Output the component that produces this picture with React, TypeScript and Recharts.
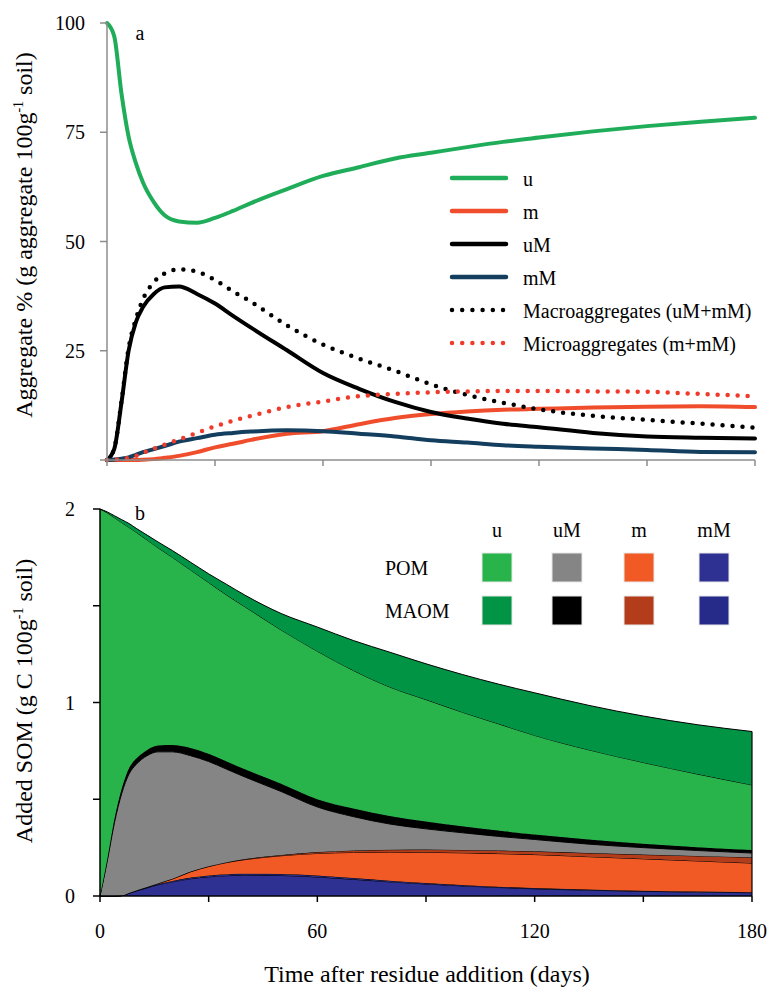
import { LineChart, Line, AreaChart, Area, XAxis, YAxis, Legend, ReferenceLine } from 'recharts'

const FONT = 'Liberation Serif, DejaVu Serif, Noto Serif, serif'

// sampling days, shared by both panels
const days = [0, 2, 4, 6, 8, 10, 13, 16, 20, 25, 30, 35, 40, 50, 60, 70, 80, 90, 100, 110, 120, 135, 150, 165, 180]

// panel a: aggregate % (g aggregate 100g-1 soil)
const uAgg = [100, 97, 84, 74, 68, 63.5, 59, 56, 54.6, 54.3, 55.4, 57, 58.8, 62, 65, 67, 69, 70.3, 71.6, 72.8, 73.8, 75.2, 76.4, 77.4, 78.3]
const mAgg = [0, 0, 0, 0, 0, 0.05, 0.2, 0.5, 0.95, 1.8, 2.9, 3.7, 4.6, 6.0, 6.6, 8.2, 9.6, 10.5, 11.1, 11.5, 11.7, 12, 12.2, 12.3, 12.1]
const uMAgg = [0, 2.5, 13, 25, 31.5, 35, 38, 39.5, 39.7, 38, 35.8, 33, 30.3, 25.1, 19.9, 16.3, 13.3, 11, 9.5, 8.3, 7.5, 6.2, 5.4, 5.1, 4.9]
const mMAgg = [0, 0.1, 0.3, 0.6, 1.2, 1.8, 2.5, 3.2, 4.2, 5.0, 5.8, 6.2, 6.5, 6.8, 6.6, 6.0, 5.4, 4.5, 4.0, 3.4, 3.05, 2.65, 2.3, 1.85, 1.75]
const macroAgg = [0, 2.6, 13.3, 25.6, 32.2, 36.8, 40.7, 42.7, 43.6, 43.1, 41.2, 38.6, 36.2, 30.8, 26.4, 23.2, 20.4, 17.3, 14.9, 13.1, 11.6, 10.1, 9.2, 8.3, 7.4]
const microAgg = [0, 0.05, 0.2, 0.45, 0.9, 1.6, 2.6, 3.5, 4.7, 6.2, 7.7, 9, 10.1, 12.1, 13.4, 14.6, 15.1, 15.5, 15.7, 15.8, 15.8, 15.7, 15.6, 15.1, 14.6]

// panel b: added SOM (g C 100g-1 soil), one array per pool, bottom of stack first
const mMPom = [0, 0, 0, 0.002, 0.014, 0.026, 0.042, 0.058, 0.073, 0.089, 0.099, 0.105, 0.107, 0.106, 0.098, 0.086, 0.073, 0.062, 0.052, 0.044, 0.037, 0.03, 0.024, 0.02, 0.017]
const mMMaom = [0, 0, 0, 0, 0.001, 0.002, 0.003, 0.004, 0.005, 0.006, 0.007, 0.008, 0.008, 0.008, 0.008, 0.007, 0.006, 0.005, 0.005, 0.004, 0.004, 0.003, 0.003, 0.003, 0.003]
const mPom = [0, 0, 0, 0, 0, 0, 0.001, 0.003, 0.01, 0.03, 0.046, 0.06, 0.073, 0.094, 0.114, 0.132, 0.148, 0.159, 0.166, 0.171, 0.173, 0.17, 0.165, 0.158, 0.15]
const mMaom = [0, 0, 0, 0, 0, 0, 0, 0, 0.001, 0.001, 0.002, 0.002, 0.003, 0.004, 0.007, 0.01, 0.012, 0.014, 0.015, 0.016, 0.017, 0.019, 0.022, 0.026, 0.03]
const uMPom = [0, 0.18, 0.38, 0.528, 0.615, 0.652, 0.679, 0.68, 0.656, 0.599, 0.541, 0.48, 0.424, 0.328, 0.233, 0.175, 0.133, 0.107, 0.089, 0.073, 0.061, 0.046, 0.036, 0.028, 0.022]
const uMMaom = [0, 0.01, 0.02, 0.025, 0.03, 0.03, 0.03, 0.033, 0.035, 0.04, 0.04, 0.04, 0.04, 0.04, 0.04, 0.042, 0.041, 0.038, 0.033, 0.03, 0.026, 0.024, 0.02, 0.017, 0.016]
const uPom = [2.0, 1.79, 1.555, 1.375, 1.245, 1.17, 1.085, 1.022, 0.97, 0.92, 0.885, 0.86, 0.84, 0.795, 0.765, 0.713, 0.667, 0.63, 0.59, 0.552, 0.512, 0.463, 0.42, 0.378, 0.336]
const uMaom = [0, 0.005, 0.01, 0.015, 0.02, 0.02, 0.025, 0.03, 0.035, 0.04, 0.045, 0.055, 0.06, 0.085, 0.125, 0.155, 0.18, 0.185, 0.195, 0.205, 0.22, 0.23, 0.24, 0.255, 0.276]

const xTicks = [0, 30, 60, 90, 120, 150, 180]
const aggTicks = [0, 25, 50, 75, 100]
const somTicks = [0, 0.5, 1, 1.5, 2]

const poolCols = ['u', 'uM', 'm', 'mM']
const poolRows = ['POM', 'MAOM']

const aggData = days.map((day, i) => ({
  day,
  u: uAgg[i],
  m: mAgg[i],
  uM: uMAgg[i],
  mM: mMAgg[i],
  macro: macroAgg[i],
  micro: microAgg[i],
}))

const somData = days.map((day, i) => ({
  day,
  mMPom: mMPom[i],
  mMMaom: mMMaom[i],
  mPom: mPom[i],
  mMaom: mMaom[i],
  uMPom: uMPom[i],
  uMMaom: uMMaom[i],
  uPom: uPom[i],
  uMaom: uMaom[i],
}))

const lineSeries = [
  { key: 'u', name: 'u', color: '#20ad5a', dotted: false },
  { key: 'm', name: 'm', color: '#f04d2c', dotted: false },
  { key: 'uM', name: 'uM', color: '#000000', dotted: false },
  { key: 'mM', name: 'mM', color: '#133e5e', dotted: false },
  { key: 'macro', name: 'Macroaggregates (uM+mM)', color: '#000000', dotted: true },
  { key: 'micro', name: 'Microaggregates (m+mM)', color: '#ee3b2b', dotted: true },
]

// stack order bottom -> top
const areaSeries = [
  { key: 'mMPom', color: '#2e3192' },
  { key: 'mMMaom', color: '#262b8a' },
  { key: 'mPom', color: '#f15a24' },
  { key: 'mMaom', color: '#b33c1a' },
  { key: 'uMPom', color: '#858585' },
  { key: 'uMMaom', color: '#000000' },
  { key: 'uPom', color: '#29b34b' },
  { key: 'uMaom', color: '#009444' },
]

const poolColors: Record<string, string[]> = {
  POM: ['#29b34b', '#858585', '#f15a24', '#2e3192'],
  MAOM: ['#009444', '#000000', '#b33c1a', '#262b8a'],
}

const lastTotal = areaSeries.reduce((s, a) => s + (somData[somData.length - 1] as any)[a.key], 0)

function AggLegend() {
  return (
    <svg width={320} height={200} style={{ display: 'block' }}>
      {lineSeries.map((s, i) => {
        const y = 18 + i * 33
        return (
          <g key={s.key}>
            <line
              x1={7}
              x2={s.dotted ? 58 : 61}
              y1={y}
              y2={y}
              stroke={s.color}
              strokeWidth={4.5}
              strokeLinecap="round"
              strokeDasharray={s.dotted ? '0 10.2' : undefined}
            />
            <text x={78} y={y + 8} fontSize={20} style={{ fontFamily: FONT }} fill="#000">
              {s.name}
            </text>
          </g>
        )
      })}
    </svg>
  )
}

function PoolLegend() {
  const colX = [112, 182, 254, 329]
  const rowY = [43, 86]
  return (
    <svg width={390} height={130} style={{ display: 'block' }}>
      {poolCols.map((c, j) => (
        <text key={c} x={colX[j] + 15} y={27} textAnchor="middle" fontSize={20} style={{ fontFamily: FONT }} fill="#000">
          {c}
        </text>
      ))}
      {poolRows.map((r, i) => (
        <g key={r}>
          <text x={15} y={rowY[i] + 22} fontSize={20} style={{ fontFamily: FONT }} fill="#000">
            {r}
          </text>
          {poolCols.map((c, j) => (
            <rect key={c} x={colX[j]} y={rowY[i]} width={30} height={29} fill={poolColors[r][j]} stroke="#e8e8e8" strokeWidth={1} />
          ))}
        </g>
      ))}
    </svg>
  )
}

const tickStyle = { fill: '#000', fontSize: 20, style: { fontFamily: FONT } }
const titleStyle = { fontFamily: FONT }

export default function App() {
  return (
    <div style={{ position: 'absolute', left: 0, top: 0, width: 770, height: 987, background: '#fff', fontFamily: FONT }}>
      {/* a: aggregate fractions */}
      <div style={{ position: 'absolute', left: 0, top: 0 }}>
        <LineChart width={770} height={480} data={aggData} margin={{ top: 23, right: 15, bottom: 6, left: 47 }}>
          <XAxis
            dataKey="day"
            type="number"
            domain={[0, 180]}
            ticks={xTicks}
            tickFormatter={() => ''}
            stroke="#8c8c8c"
            strokeWidth={1.5}
            tickSize={6}
            height={14}
          />
          <YAxis
            domain={[0, 100]}
            ticks={aggTicks}
            tickFormatter={(v: number) => (v === 0 ? '' : String(v))}
            stroke="#8c8c8c"
            strokeWidth={1.5}
            width={60}
            tickSize={7}
            tickMargin={15}
            tick={tickStyle}
          />
          {lineSeries.map((s) => (
            <Line
              key={s.key}
              type="monotone"
              dataKey={s.key}
              name={s.name}
              stroke={s.color}
              strokeWidth={s.dotted ? 4.5 : 4}
              strokeLinecap="round"
              strokeDasharray={s.dotted ? '0 10' : undefined}
              dot={false}
              activeDot={false}
              isAnimationActive={false}
            />
          ))}
          <Legend
            layout="horizontal"
            verticalAlign="middle"
            align="center"
            content={() => <AggLegend />}
            wrapperStyle={{ left: 445, top: 160, width: 320 }}
          />
        </LineChart>
      </div>

      {/* b: added SOM by pool */}
      <div style={{ position: 'absolute', left: 0, top: 480 }}>
        <AreaChart width={770} height={507} data={somData} margin={{ top: 29, right: 18, bottom: 51, left: 40 }}>
          <XAxis
            dataKey="day"
            type="number"
            domain={[0, 180]}
            ticks={xTicks}
            tickFormatter={(v: number) => (v % 60 === 0 ? String(v) : '')}
            stroke="#000"
            strokeWidth={1.5}
            tickSize={6}
            tickMargin={22}
            height={40}
            tick={tickStyle}
          />
          <YAxis
            domain={[0, 2]}
            ticks={somTicks}
            tickFormatter={(v: number) => (Number.isInteger(v) ? String(v) : '')}
            stroke="#000"
            strokeWidth={1.5}
            width={60}
            tickSize={7}
            tickMargin={18}
            tick={tickStyle}
          />
          {areaSeries.map((a) => (
            <Area
              key={a.key}
              type="monotone"
              dataKey={a.key}
              stackId="som"
              fill={a.color}
              fillOpacity={1}
              stroke="#000"
              strokeWidth={1}
              dot={false}
              activeDot={false}
              isAnimationActive={false}
            />
          ))}
          <ReferenceLine segment={[{ x: 180, y: 0 }, { x: 180, y: lastTotal }]} stroke="#000" strokeWidth={1.2} />
          <Legend
            layout="horizontal"
            verticalAlign="middle"
            align="center"
            content={() => <PoolLegend />}
            wrapperStyle={{ left: 370, top: 30, width: 390 }}
          />
        </AreaChart>
      </div>

      {/* axis titles and panel letters */}
      <svg width={770} height={987} style={{ position: 'absolute', left: 0, top: 0, pointerEvents: 'none' }}>
        <text transform="translate(32,235) rotate(-90)" textAnchor="middle" fontSize={24} style={titleStyle} fill="#000">
          Aggregate % (g aggregate 100g<tspan fontSize={14} dy={-9}>-1</tspan>
          <tspan dy={9}> soil)</tspan>
        </text>
        <text transform="translate(32,701) rotate(-90)" textAnchor="middle" fontSize={24} style={titleStyle} fill="#000">
          Added SOM (g C 100g<tspan fontSize={14} dy={-9}>-1</tspan>
          <tspan dy={9}> soil)</tspan>
        </text>
        <text x={427} y={982} textAnchor="middle" fontSize={24} style={titleStyle} fill="#000">
          Time after residue addition (days)
        </text>
        <text x={140} y={40} textAnchor="middle" fontSize={20} style={titleStyle} fill="#000">
          a
        </text>
        <text x={140} y={520} textAnchor="middle" fontSize={20} style={titleStyle} fill="#000">
          b
        </text>
      </svg>
    </div>
  )
}
